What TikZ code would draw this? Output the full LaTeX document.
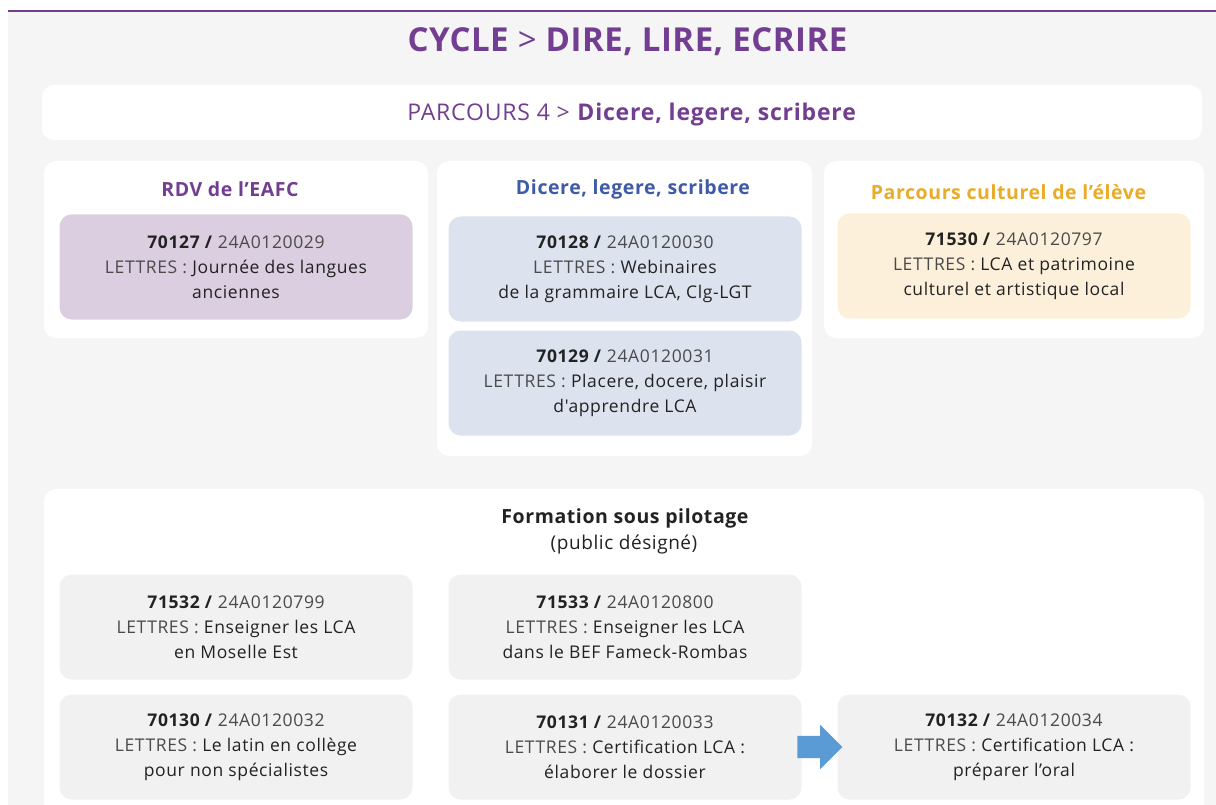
\documentclass[tikz,border=0pt]{standalone}
\usepackage{fontspec}
\setmainfont{Open Sans}
\newfontfamily\fichefont[LetterSpace=3.5]{Open Sans}
\newfontfamily\titrefont[LetterSpace=3]{Open Sans}
\newfontfamily\cyclefont[LetterSpace=1.5]{Open Sans}
\usetikzlibrary{shapes.arrows,calc}
\definecolor{bggray}{HTML}{F5F5F5}
\definecolor{titlepurple}{HTML}{733E91}
\definecolor{titleblue}{HTML}{3E5AA8}
\definecolor{titleorange}{HTML}{EAAB29}
\definecolor{cardpurple}{HTML}{DCCEE1}
\definecolor{cardblue}{HTML}{DDE2EF}
\definecolor{cardyellow}{HTML}{FCF0DA}
\definecolor{cardgray}{HTML}{F1F1F1}
\definecolor{codegray}{HTML}{4A4A4A}
\definecolor{textdark}{HTML}{222222}
\definecolor{arrowblue}{HTML}{5B9BD5}
\newcommand{\fiche}[4]{\textbf{#1 /} {\color{codegray}#2}\\{\color{codegray}LETTRES :} #3\\#4}
\begin{document}
\begin{tikzpicture}[x=1pt,y=-1pt]
  \tikzset{
    panel/.style={fill=white, rounded corners=12pt, inner sep=0pt},
    ficheb/.style={rounded corners=12pt, minimum width=353pt, minimum height=105pt,
      inner sep=0pt, align=center, text=textdark, font=\fichefont\fontsize{17.5}{25}\selectfont},
    paneltitle/.style={font=\titrefont\fontsize{19.5}{22}\selectfont\bfseries}
  }
  \useasboundingbox (0,0) rectangle (1216,805);
  \fill[bggray] (8,12) rectangle (1216,805);
  \draw[titlepurple, line width=1.5pt] (8,11) -- (1216,11);
  % titre
  \node[font=\cyclefont\fontsize{33}{36}\selectfont\bfseries, text=titlepurple] (cycle) at (627.5,42)
    {CYCLE {\mdseries >} DIRE, LIRE, ECRIRE};
  \node[panel, minimum width=1160pt, minimum height=55pt] (banner) at (622,112.5) {};
  \node[font=\fichefont\fontsize{23}{26}\selectfont, text=titlepurple] (parcours) at (632,115)
    {PARCOURS 4 > \textbf{Dicere, legere, scribere}};
  % panneaux
  \node[panel, minimum width=384pt, minimum height=177pt] (pEAFC) at (236,249.5) {};
  \node[panel, minimum width=375pt, minimum height=295pt] (pDicere) at (624.5,308.5) {};
  \node[panel, minimum width=380pt, minimum height=177pt] (pParcours) at (1014,249.5) {};
  \fill[white, rounded corners=12pt] (44,489) rectangle (1204,830);
  \node[paneltitle, text=titlepurple] (tEAFC) at (230,189) {RDV de l’EAFC};
  \node[paneltitle, text=titleblue] (tDicere) at (633,189) {Dicere, legere, scribere};
  \node[paneltitle, text=titleorange] (tParcours) at (1008.5,192) {Parcours culturel de l’élève};
  \node[paneltitle, text=textdark] (tFormation) at (625,518) {Formation sous pilotage};
  \node[text=textdark, font=\titrefont\fontsize{19}{20}\selectfont] (tPublic) at (624,545) {(public désigné)};
  % fiches
  \node[ficheb, fill=cardpurple] (c70127) at (236,267)
    {\fiche{70127}{24A0120029}{Journée des langues}{anciennes}};
  \node[ficheb, fill=cardblue] (c70128) at (625,269)
    {\fiche{70128}{24A0120030}{Webinaires}{de la grammaire LCA, Clg-LGT}};
  \node[ficheb, fill=cardblue] (c70129) at (625,383)
    {\fiche{70129}{24A0120031}{Placere, docere, plaisir}{d'apprendre LCA}};
  \node[ficheb, fill=cardyellow] (c71530) at (1014,266)
    {\fiche{71530}{24A0120797}{LCA et patrimoine}{culturel et artistique local}};
  \node[ficheb, fill=cardgray] (c71532) at (236,627)
    {\fiche{71532}{24A0120799}{Enseigner les LCA}{en Moselle Est}};
  \node[ficheb, fill=cardgray] (c71533) at (625,627)
    {\fiche{71533}{24A0120800}{Enseigner les LCA}{dans le BEF Fameck-Rombas}};
  \node[ficheb, fill=cardgray] (c70130) at (236,747)
    {\fiche{70130}{24A0120032}{Le latin en collège}{pour non spécialistes}};
  \node[ficheb, fill=cardgray] (c70131) at (625,747)
    {\fiche{70131}{24A0120033}{Certification LCA :}{élaborer le dossier}};
  \node[ficheb, fill=cardgray] (c70132) at (1014,747)
    {\fiche{70132}{24A0120034}{Certification LCA :}{préparer l’oral}};
  % fleche
  \node[single arrow, fill=arrowblue, inner xsep=0pt, inner ysep=11pt, minimum height=45pt,
    minimum width=44pt, single arrow head extend=11pt, anchor=tail] (suite)
    at ($(c70131.east)+(-4.5,0)$) {};
\end{tikzpicture}
\end{document}
